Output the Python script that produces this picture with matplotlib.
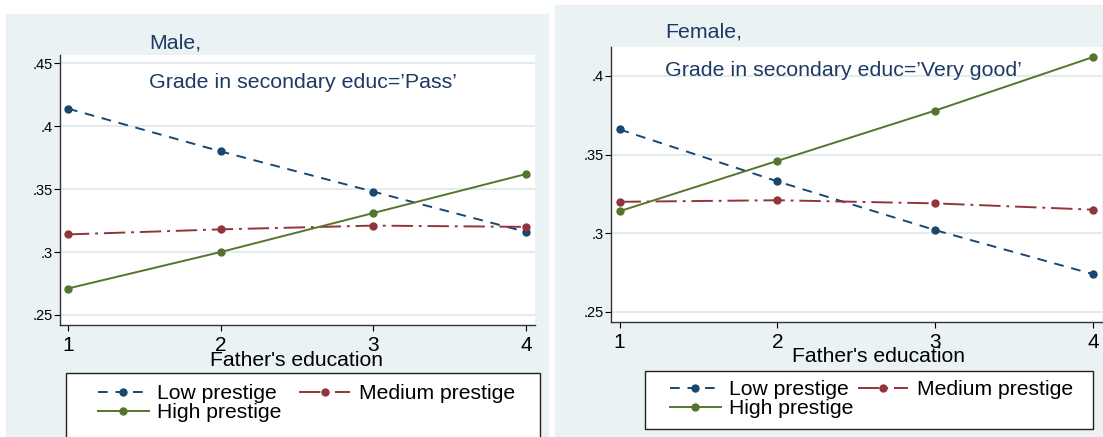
import matplotlib.pyplot as plt
from matplotlib.patches import Rectangle
from matplotlib.lines import Line2D

plt.rcParams['font.family'] = ['Liberation Sans', 'DejaVu Sans']

# data
father_educ = [1, 2, 3, 4]
series_names = ['Low prestige', 'Medium prestige', 'High prestige']

male_low = [0.414, 0.380, 0.348, 0.316]
male_medium = [0.314, 0.318, 0.321, 0.320]
male_high = [0.271, 0.300, 0.331, 0.362]

female_low = [0.366, 0.333, 0.302, 0.274]
female_medium = [0.320, 0.321, 0.319, 0.315]
female_high = [0.314, 0.346, 0.378, 0.412]

W, H = 1103, 437
NAVY = '#1a476f'
MAROON = '#90353b'
GREEN = '#55752f'
BG = '#eaf2f3'
GRID = '#dde9ec'
TITLE_COL = '#1e3a64'
DASH = (0, (5, 4))
DASHDOT = (0, (11, 3, 1.5, 3))

fig = plt.figure(figsize=(W / 100, H / 100), dpi=100)


def fx(px):
    return px / W


def fy(py):
    return 1 - py / H


def panel(bg_box, ax_box, ylim, xlim, yticks, ylabels, titles, title_x,
          title_y, xlab_y, xlab_x, leg_box, leg_anchor, colspace,
          low, medium, high):
    """Draw one screenshot panel of the Stata margins plot."""
    x0, y0, x1, y1 = bg_box
    fig.patches.append(Rectangle((fx(x0), fy(y1)), fx(x1 - x0), (y1 - y0) / H,
                                 transform=fig.transFigure, color=BG,
                                 zorder=-5))
    a0, b0, a1, b1 = ax_box
    ax = fig.add_axes([fx(a0), fy(b1), fx(a1 - a0), (b1 - b0) / H])
    ax.set_zorder(2)
    ax.set_facecolor('white')
    ax.set_xlim(*xlim)
    ax.set_ylim(*ylim)

    ax.plot(father_educ, low, color=NAVY, lw=1.4, ls=DASH,
            marker='o', ms=5, label=series_names[0], zorder=3)
    ax.plot(father_educ, medium, color=MAROON, lw=1.4, ls=DASHDOT,
            marker='o', ms=5, label=series_names[1], zorder=3)
    ax.plot(father_educ, high, color=GREEN, lw=1.4, ls='-',
            marker='o', ms=5, label=series_names[2], zorder=3)

    ax.set_yticks(yticks)
    ax.set_yticklabels(ylabels, fontsize=10.5)
    ax.set_xticks(father_educ)
    ax.set_xticklabels([str(v) for v in father_educ], fontsize=15)
    ax.grid(axis='y', color=GRID, lw=1.2, zorder=0)
    ax.tick_params(axis='y', length=4, pad=1, width=0.8)
    ax.tick_params(axis='x', length=4, pad=4, width=0.8)
    for side in ('top', 'right'):
        ax.spines[side].set_visible(False)
    for side in ('left', 'bottom'):
        ax.spines[side].set_color('#333333')
        ax.spines[side].set_linewidth(1.0)

    fig.text(fx(title_x), fy(title_y[0]), titles[0], fontsize=15.4,
             color=TITLE_COL, va='center', ha='left', zorder=4)
    fig.text(fx(title_x), fy(title_y[1]), titles[1], fontsize=15.4,
             color=TITLE_COL, va='center', ha='left', zorder=4)
    fig.text(fx(xlab_x), fy(xlab_y), "Father's education", fontsize=15.2,
             va='center', ha='center', zorder=4)

    l0, t0, l1, t1 = leg_box
    fig.patches.append(Rectangle((fx(l0), fy(t1)), fx(l1 - l0), (t1 - t0) / H,
                                 transform=fig.transFigure, facecolor='white',
                                 edgecolor='#222222', lw=1.0, zorder=1))
    handles = [
        Line2D([], [], color=NAVY, lw=1.4, ls=DASH, marker='o', ms=5),
        Line2D([], [], color=GREEN, lw=1.4, ls='-', marker='o', ms=5),
        Line2D([], [], color=MAROON, lw=1.4, ls=DASHDOT, marker='o', ms=5),
    ]
    labels = [series_names[0], series_names[2], series_names[1]]
    leg = fig.legend(handles, labels, ncol=2, frameon=False, fontsize=15.2,
                     loc='upper left',
                     bbox_to_anchor=(fx(leg_anchor[0]), fy(leg_anchor[1])),
                     borderpad=0, borderaxespad=0, handlelength=2.4,
                     handletextpad=0.4, labelspacing=0.0,
                     columnspacing=colspace)
    leg.set_zorder(5)
    return ax


panel(bg_box=(6, 14, 548, 437), ax_box=(60, 55, 535, 325),
      ylim=(0.242, 0.4566), xlim=(0.948, 4.059),
      yticks=[0.25, 0.3, 0.35, 0.4, 0.45],
      ylabels=['.25', '.3', '.35', '.4', '.45'],
      titles=['Male,', "Grade in secondary educ=\u2019Pass\u2019"],
      title_x=149, title_y=(43, 82), xlab_y=360, xlab_x=296,
      leg_box=(66, 373, 540, 445), leg_anchor=(98, 384), colspace=0.85,
      low=male_low, medium=male_medium, high=male_high)

panel(bg_box=(555, 5, 1103, 437), ax_box=(611, 47, 1102, 322),
      ylim=(0.2436, 0.4184), xlim=(0.946, 4.057),
      yticks=[0.25, 0.3, 0.35, 0.4],
      ylabels=['.25', '.3', '.35', '.4'],
      titles=['Female,', "Grade in secondary educ=\u2019Very good\u2019"],
      title_x=665, title_y=(32, 70), xlab_y=357, xlab_x=878,
      leg_box=(645, 371, 1093, 429), leg_anchor=(670, 380), colspace=0.2,
      low=female_low, medium=female_medium, high=female_high)

fig.savefig('out.png', dpi=100)
